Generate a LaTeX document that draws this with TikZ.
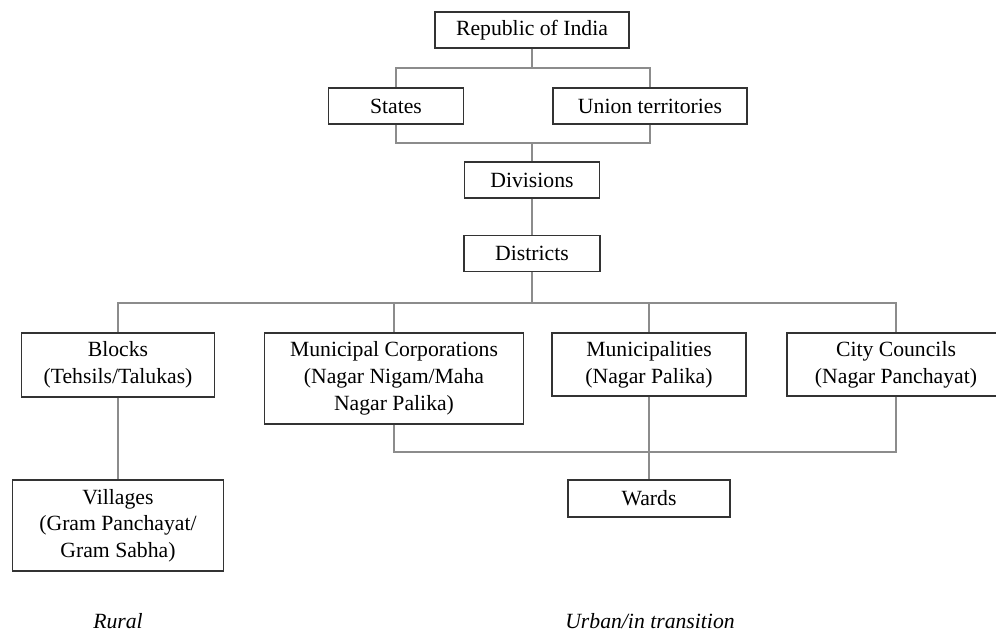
\documentclass[tikz,border=0pt]{standalone}
\usepackage{fontspec}
\setmainfont{Liberation Serif}
\begin{document}
\begin{tikzpicture}[x=1pt,y=-1pt,
  box/.style={draw=black!80, line width=1.4pt, fill=white, inner sep=0pt, align=center,
    font=\fontsize{21.7}{26.7}\selectfont},
  conn/.style={draw=black!45, line width=1.1pt},
  caption/.style={inner sep=0pt, anchor=base, font=\fontsize{21.7}{26}\selectfont\itshape}]
\useasboundingbox (0,0) rectangle (996,634);
\clip (0,0) rectangle (996,634);
% nodes
\node[box, minimum width=194pt, minimum height=36pt] (rep) at (532,30) {Republic of India};
\node[box, minimum width=135pt, minimum height=36pt] (states) at (396,106) {States};
\node[box, minimum width=194pt, minimum height=36pt] (ut) at (650,106) {Union territories};
\node[box, minimum width=135pt, minimum height=36pt] (div) at (532,180) {Divisions};
\node[box, minimum width=136pt, minimum height=36pt] (dist) at (532,253.5) {Districts};
\node[box, minimum width=193pt, minimum height=64pt] (blocks) at (118,365) {Blocks\\(Tehsils/Talukas)};
\node[box, minimum width=259pt, minimum height=91pt] (mc) at (394,378.5) {Municipal Corporations\\(Nagar Nigam/Maha\\Nagar Palika)};
\node[box, minimum width=194pt, minimum height=63pt] (mun) at (649,364.5) {Municipalities\\(Nagar Palika)};
\node[box, minimum width=218pt, minimum height=63pt] (cc) at (896,364.5) {City Councils\\(Nagar Panchayat)};
\node[box, minimum width=162pt, minimum height=37pt] (wards) at (649,498.5) {Wards};
\node[box, minimum width=211pt, minimum height=91pt] (vil) at (118,525.5) {Villages\\(Gram Panchayat/\\Gram Sabha)};
\node[caption] (rural) at (118,628) {Rural};
\node[caption] (urban) at (650,628) {Urban/in transition};
% bus coordinates
\coordinate (b1) at (532,68);
\coordinate (b2) at (532,143);
\coordinate (b3) at (532,303);
\coordinate (b4) at (649,452);
% connectors
\draw[conn] (rep.south) -- (b1);
\draw[conn] (b1) -| (states.north);
\draw[conn] (b1) -| (ut.north);
\draw[conn] (states.south) |- (b2);
\draw[conn] (ut.south) |- (b2);
\draw[conn] (b2) -- (div.north);
\draw[conn] (div.south) -- (dist.north);
\draw[conn] (dist.south) -- (b3);
\draw[conn] (b3) -| (blocks.north);
\draw[conn] (b3) -| (mc.north);
\draw[conn] (b3) -| (mun.north);
\draw[conn] (b3) -| (cc.north);
\draw[conn] (blocks.south) -- (vil.north);
\draw[conn] (mc.south) |- (b4);
\draw[conn] (mun.south) -- (b4);
\draw[conn] (cc.south) |- (b4);
\draw[conn] (b4) -- (wards.north);
\end{tikzpicture}
\end{document}
